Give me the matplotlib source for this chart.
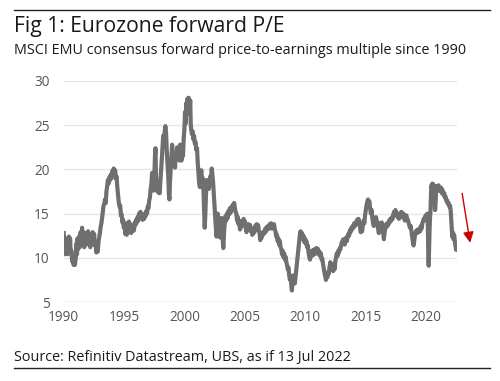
import matplotlib
matplotlib.use("Agg")
import matplotlib.pyplot as plt
from matplotlib.lines import Line2D

plt.rcParams['font.family'] = ['Open Sans', 'DejaVu Sans']

title = "Fig 1: Eurozone forward P/E"
subtitle = "MSCI EMU consensus forward price-to-earnings multiple since 1990"
source = "Source: Refinitiv Datastream, UBS, as if 13 Jul 2022"

x_ticks = [1990, 1995, 2000, 2005, 2010, 2015, 2020]
y_ticks = [5, 10, 15, 20, 25, 30]

dates = [
    1990.00, 1990.04, 1990.08, 1990.12, 1990.17, 1990.22, 1990.28, 1990.33, 1990.38, 1990.43,
    1990.48, 1990.53, 1990.58, 1990.64, 1990.70, 1990.76, 1990.82, 1990.88, 1990.93, 1991.00,
    1991.05, 1991.10, 1991.15, 1991.20, 1991.27, 1991.33, 1991.40, 1991.46, 1991.52, 1991.58,
    1991.64, 1991.70, 1991.77, 1991.83, 1991.90, 1991.96, 1992.02, 1992.08, 1992.14, 1992.20,
    1992.27, 1992.33, 1992.40, 1992.46, 1992.52, 1992.58, 1992.64, 1992.70, 1992.76, 1992.82,
    1992.88, 1992.94, 1993.00, 1993.06, 1993.12, 1993.18, 1993.24, 1993.30, 1993.36, 1993.42,
    1993.48, 1993.54, 1993.60, 1993.66, 1993.72, 1993.78, 1993.84, 1993.90, 1993.96, 1994.02,
    1994.08, 1994.14, 1994.20, 1994.26, 1994.32, 1994.38, 1994.44, 1994.50, 1994.56, 1994.62,
    1994.68, 1994.74, 1994.80, 1994.86, 1994.92, 1994.98, 1995.04, 1995.10, 1995.16, 1995.22,
    1995.28, 1995.34, 1995.40, 1995.46, 1995.52, 1995.58, 1995.64, 1995.70, 1995.76, 1995.82,
    1995.88, 1995.94, 1996.00, 1996.06, 1996.12, 1996.18, 1996.24, 1996.30, 1996.36, 1996.42,
    1996.48, 1996.54, 1996.60, 1996.66, 1996.72, 1996.78, 1996.84, 1996.90, 1996.96, 1997.02,
    1997.08, 1997.14, 1997.20, 1997.26, 1997.32, 1997.38, 1997.44, 1997.50, 1997.56, 1997.60,
    1997.64, 1997.70, 1997.76, 1997.82, 1997.88, 1997.94, 1998.00, 1998.06, 1998.12, 1998.18,
    1998.24, 1998.30, 1998.36, 1998.42, 1998.48, 1998.54, 1998.60, 1998.66, 1998.72, 1998.76,
    1998.80, 1998.86, 1998.92, 1998.98, 1999.04, 1999.10, 1999.16, 1999.22, 1999.28, 1999.34,
    1999.40, 1999.46, 1999.52, 1999.58, 1999.64, 1999.70, 1999.76, 1999.82, 1999.88, 1999.94,
    2000.00, 2000.05, 2000.10, 2000.15, 2000.20, 2000.25, 2000.30, 2000.36, 2000.42, 2000.48,
    2000.52, 2000.56, 2000.62, 2000.68, 2000.74, 2000.80, 2000.86, 2000.92, 2000.98, 2001.04,
    2001.10, 2001.16, 2001.22, 2001.28, 2001.34, 2001.40, 2001.46, 2001.52, 2001.58, 2001.64,
    2001.68, 2001.72, 2001.78, 2001.84, 2001.90, 2001.96, 2002.02, 2002.08, 2002.14, 2002.20,
    2002.26, 2002.32, 2002.38, 2002.44, 2002.50, 2002.56, 2002.62, 2002.66, 2002.70, 2002.76,
    2002.82, 2002.88, 2002.94, 2003.00, 2003.06, 2003.12, 2003.18, 2003.22, 2003.28, 2003.34,
    2003.40, 2003.46, 2003.52, 2003.58, 2003.64, 2003.70, 2003.76, 2003.82, 2003.88, 2003.94,
    2004.00, 2004.06, 2004.12, 2004.18, 2004.24, 2004.30, 2004.36, 2004.42, 2004.48, 2004.54,
    2004.60, 2004.66, 2004.72, 2004.78, 2004.84, 2004.90, 2004.96, 2005.02, 2005.08, 2005.14,
    2005.20, 2005.26, 2005.32, 2005.38, 2005.44, 2005.50, 2005.56, 2005.62, 2005.68, 2005.74,
    2005.80, 2005.86, 2005.92, 2005.98, 2006.04, 2006.10, 2006.16, 2006.22, 2006.28, 2006.34,
    2006.40, 2006.46, 2006.52, 2006.58, 2006.64, 2006.70, 2006.76, 2006.82, 2006.88, 2006.94,
    2007.00, 2007.06, 2007.12, 2007.18, 2007.24, 2007.30, 2007.36, 2007.42, 2007.48, 2007.54,
    2007.60, 2007.66, 2007.72, 2007.78, 2007.84, 2007.90, 2007.96, 2008.02, 2008.08, 2008.14,
    2008.20, 2008.26, 2008.32, 2008.38, 2008.44, 2008.50, 2008.56, 2008.62, 2008.68, 2008.74,
    2008.80, 2008.86, 2008.90, 2008.96, 2009.02, 2009.08, 2009.14, 2009.20, 2009.26, 2009.32,
    2009.38, 2009.44, 2009.50, 2009.56, 2009.62, 2009.68, 2009.74, 2009.80, 2009.86, 2009.92,
    2009.98, 2010.04, 2010.10, 2010.16, 2010.22, 2010.28, 2010.34, 2010.40, 2010.46, 2010.52,
    2010.58, 2010.64, 2010.70, 2010.76, 2010.82, 2010.88, 2010.94, 2011.00, 2011.06, 2011.12,
    2011.18, 2011.24, 2011.30, 2011.36, 2011.42, 2011.48, 2011.54, 2011.60, 2011.66, 2011.72,
    2011.78, 2011.84, 2011.90, 2011.96, 2012.02, 2012.08, 2012.14, 2012.20, 2012.26, 2012.32,
    2012.38, 2012.44, 2012.50, 2012.56, 2012.62, 2012.68, 2012.74, 2012.80, 2012.86, 2012.92,
    2012.98, 2013.04, 2013.10, 2013.16, 2013.22, 2013.28, 2013.34, 2013.40, 2013.46, 2013.52,
    2013.58, 2013.64, 2013.70, 2013.76, 2013.82, 2013.88, 2013.94, 2014.00, 2014.06, 2014.12,
    2014.18, 2014.24, 2014.30, 2014.36, 2014.42, 2014.48, 2014.54, 2014.60, 2014.66, 2014.72,
    2014.78, 2014.84, 2014.90, 2014.96, 2015.02, 2015.08, 2015.14, 2015.20, 2015.26, 2015.32,
    2015.38, 2015.44, 2015.50, 2015.56, 2015.62, 2015.68, 2015.74, 2015.80, 2015.86, 2015.92,
    2015.98, 2016.04, 2016.10, 2016.16, 2016.22, 2016.28, 2016.34, 2016.40, 2016.46, 2016.52,
    2016.58, 2016.64, 2016.70, 2016.76, 2016.82, 2016.88, 2016.94, 2017.00, 2017.06, 2017.12,
    2017.18, 2017.24, 2017.30, 2017.36, 2017.42, 2017.48, 2017.54, 2017.60, 2017.66, 2017.72,
    2017.78, 2017.84, 2017.90, 2017.96, 2018.02, 2018.08, 2018.14, 2018.20, 2018.26, 2018.32,
    2018.38, 2018.44, 2018.50, 2018.56, 2018.62, 2018.68, 2018.74, 2018.80, 2018.86, 2018.92,
    2018.98, 2019.04, 2019.10, 2019.16, 2019.22, 2019.28, 2019.34, 2019.40, 2019.46, 2019.52,
    2019.58, 2019.64, 2019.70, 2019.76, 2019.82, 2019.88, 2019.94, 2020.00, 2020.06, 2020.12,
    2020.16, 2020.20, 2020.23, 2020.26, 2020.30, 2020.34, 2020.38, 2020.42, 2020.46, 2020.50,
    2020.54, 2020.58, 2020.62, 2020.66, 2020.72, 2020.76, 2020.80, 2020.86, 2020.92, 2020.98,
    2021.04, 2021.10, 2021.16, 2021.22, 2021.28, 2021.34, 2021.40, 2021.46, 2021.52, 2021.58,
    2021.64, 2021.70, 2021.76, 2021.82, 2021.88, 2021.94, 2022.00, 2022.06, 2022.10, 2022.14,
    2022.18, 2022.22, 2022.28, 2022.34, 2022.40, 2022.46, 2022.50, 2022.53,
]

pe = [
    12.8, 10.5, 12.3, 10.4, 11.8, 10.6, 12.0, 10.4, 11.5, 12.4,
    11.0, 12.2, 10.5, 10.8, 9.6, 10.2, 9.2, 9.6, 9.2, 10.0,
    11.6, 10.4, 12.2, 11.0, 12.4, 11.2, 12.9, 11.6, 13.4, 11.8,
    12.9, 11.2, 12.6, 11.5, 12.8, 11.6, 13.0, 11.8, 12.6, 11.2,
    12.5, 11.6, 12.9, 12.0, 12.7, 11.4, 11.8, 10.6, 11.0, 10.7,
    11.8, 12.3, 12.8, 13.5, 13.9, 14.5, 15.2, 15.9, 16.1, 16.6,
    16.2, 17.5, 18.1, 18.8, 18.4, 19.1, 18.8, 19.4, 19.0, 19.8,
    19.3, 20.1, 19.5, 19.9, 19.0, 19.2, 18.0, 17.2, 16.3, 15.8,
    15.9, 14.8, 14.9, 14.0, 14.3, 13.4, 13.9, 12.7, 13.5, 12.6,
    13.9, 13.6, 14.1, 13.5, 13.8, 12.8, 13.3, 13.0, 13.6, 13.1,
    14.0, 13.7, 14.3, 14.0, 14.6, 14.2, 15.0, 14.6, 15.2, 14.6,
    14.9, 14.3, 14.7, 14.4, 15.0, 14.7, 15.3, 15.0, 15.8, 15.6,
    16.5, 16.8, 17.8, 18.3, 19.6, 18.2, 17.6, 19.0, 21.5, 22.4,
    19.5, 17.6, 18.4, 17.4, 18.2, 17.3, 18.5, 19.8, 21.0, 22.5,
    23.8, 22.8, 24.2, 24.9, 24.1, 22.0, 20.5, 19.2, 17.0, 16.6,
    18.5, 20.0, 21.5, 22.8, 21.8, 20.5, 21.4, 20.2, 21.9, 21.2,
    22.5, 21.5, 22.4, 21.0, 22.8, 21.3, 21.0, 22.0, 21.5, 23.5,
    24.6, 26.5, 25.2, 27.5, 26.2, 28.0, 26.8, 28.1, 26.5, 27.8,
    25.2, 24.5, 24.0, 24.3, 23.4, 23.8, 22.9, 23.1, 22.2, 22.4,
    20.8, 19.6, 18.4, 18.0, 19.5, 19.9, 18.6, 19.0, 17.5, 15.2,
    13.4, 14.5, 17.0, 18.8, 18.0, 18.6, 17.8, 18.5, 19.2, 18.8,
    20.1, 19.4, 18.4, 17.0, 15.6, 14.0, 13.0, 12.4, 13.8, 15.0,
    14.2, 13.2, 12.3, 13.4, 14.5, 13.0, 11.8, 11.1, 12.8, 14.0,
    14.7, 14.2, 15.0, 14.5, 15.3, 14.9, 15.6, 15.1, 15.7, 15.4,
    16.0, 15.7, 16.2, 15.6, 15.2, 15.0, 14.2, 14.6, 13.8, 14.2,
    13.2, 13.8, 13.5, 14.1, 13.7, 14.4, 13.9, 14.1, 13.4, 12.9,
    13.6, 13.2, 13.8, 13.4, 13.7, 13.0, 13.3, 12.6, 12.7, 13.3,
    12.9, 13.6, 13.3, 13.8, 13.4, 13.7, 13.1, 12.8, 12.0, 12.6,
    12.3, 12.8, 12.6, 13.0, 12.8, 13.3, 13.0, 13.5, 13.2, 13.6,
    13.3, 13.8, 13.4, 13.9, 13.3, 13.7, 13.4, 13.8, 13.2, 13.0,
    12.4, 12.6, 11.9, 12.2, 11.5, 11.9, 11.2, 11.0, 10.4, 10.8,
    10.1, 10.5, 9.8, 10.1, 9.5, 9.2, 8.7, 8.9, 8.0, 7.5,
    7.9, 6.8, 6.3, 7.4, 8.0, 7.6, 7.1, 7.8, 8.6, 9.4,
    10.2, 11.0, 11.8, 12.6, 13.0, 12.5, 12.8, 12.1, 12.5, 11.8,
    12.2, 11.6, 11.9, 11.2, 11.4, 10.6, 10.1, 9.8, 10.5, 10.2,
    10.8, 10.3, 10.9, 10.4, 11.0, 10.5, 11.1, 10.6, 11.0, 10.4,
    10.7, 10.2, 10.5, 9.8, 9.9, 9.3, 8.8, 8.3, 7.9, 7.5,
    8.0, 7.8, 8.4, 8.2, 9.0, 9.5, 9.1, 9.3, 8.8, 8.5,
    9.0, 8.7, 9.6, 10.1, 10.5, 10.2, 10.8, 10.6, 11.1, 11.0,
    11.4, 11.8, 11.6, 12.1, 11.8, 11.5, 12.0, 12.3, 11.9, 12.4,
    12.7, 12.5, 13.1, 12.9, 13.4, 13.2, 13.6, 13.4, 13.9, 13.6,
    14.0, 13.8, 14.3, 14.0, 14.4, 13.9, 13.5, 12.9, 13.3, 13.0,
    13.8, 14.2, 13.9, 14.8, 15.4, 15.9, 16.3, 16.6, 16.2, 16.4,
    15.6, 15.0, 15.4, 14.5, 14.0, 13.6, 14.2, 13.9, 14.6, 14.2,
    14.0, 13.3, 12.8, 13.5, 13.9, 13.6, 14.0, 13.4, 12.8, 12.1,
    12.9, 13.4, 13.8, 13.5, 13.9, 13.7, 14.2, 14.0, 14.4, 14.2,
    14.6, 14.4, 14.9, 15.2, 14.8, 15.4, 14.9, 15.1, 14.6, 14.8,
    14.4, 14.7, 14.9, 15.2, 15.0, 14.6, 15.0, 14.5, 14.2, 14.6,
    14.8, 14.4, 14.3, 14.0, 13.7, 13.4, 13.6, 13.0, 12.4, 11.8,
    11.4, 12.0, 12.6, 12.9, 13.1, 12.8, 13.2, 12.9, 13.3, 13.0,
    13.6, 13.3, 13.9, 14.1, 14.4, 14.3, 14.7, 14.6, 14.9, 15.0,
    13.5, 10.5, 9.1, 10.8, 13.0, 14.5, 15.3, 17.2, 18.2, 17.8,
    18.4, 17.6, 18.3, 17.8, 16.5, 15.4, 16.2, 17.9, 18.1, 17.6,
    18.2, 17.7, 18.0, 17.5, 17.9, 17.3, 17.6, 17.1, 17.3, 16.8,
    16.9, 16.4, 16.5, 16.1, 16.2, 15.8, 15.9, 15.2, 14.2, 13.2,
    12.4, 12.9, 12.1, 12.6, 11.8, 11.3, 10.9, 11.2,
]

W, H = 500, 381
fig = plt.figure(figsize=(W / 100, H / 100), dpi=100)
fig.patch.set_facecolor('white')

ax = fig.add_axes([63.7 / W, 1 - 302 / H, (457.3 - 63.7) / W, (302 - 81) / H])
ax.plot(dates, pe, color='#6f6f6f', lw=3.0, solid_joinstyle='round')
ax.set_xlim(1990, 2022.6)
ax.set_ylim(5, 30)
ax.set_xticks(x_ticks)
ax.set_yticks(y_ticks)
ax.set_xticklabels([str(t) for t in x_ticks])
ax.set_yticklabels([str(t) for t in y_ticks])
for s in ax.spines.values():
    s.set_visible(False)
ax.grid(axis='y', color='#e6e6e6', lw=1.0)
ax.axhline(5, color='#cfcfcf', lw=1.0, zorder=1)
ax.set_axisbelow(True)
ax.tick_params(axis='both', length=0, labelsize=9.8, colors='#555555')
ax.tick_params(axis='x', pad=6)
ax.tick_params(axis='y', pad=10)

ax.annotate('', xy=(2023.66, 11.7), xytext=(2023.0, 17.3),
            xycoords='data', textcoords='data', annotation_clip=False,
            arrowprops=dict(arrowstyle='-|>', color='#cc0000', lw=1.0,
                            mutation_scale=16, shrinkA=0, shrinkB=0))

fig.add_artist(Line2D([14 / W, 490 / W], [1 - 10 / H] * 2, color='#222222', lw=1.0))
fig.add_artist(Line2D([14 / W, 490 / W], [1 - 368 / H] * 2, color='#222222', lw=1.0))

fig.text(14 / W, 1 - 31.7 / H, title, fontsize=15.2, color='#1a1a1a', va='baseline', ha='left')
fig.text(14 / W, 1 - 54 / H, subtitle, fontsize=10.4, color='#1a1a1a', va='baseline', ha='left')
fig.text(14 / W, 1 - 361.5 / H, source, fontsize=10.4, color='#1a1a1a', va='baseline', ha='left')

fig.savefig('out.png', dpi=100, facecolor='white')
